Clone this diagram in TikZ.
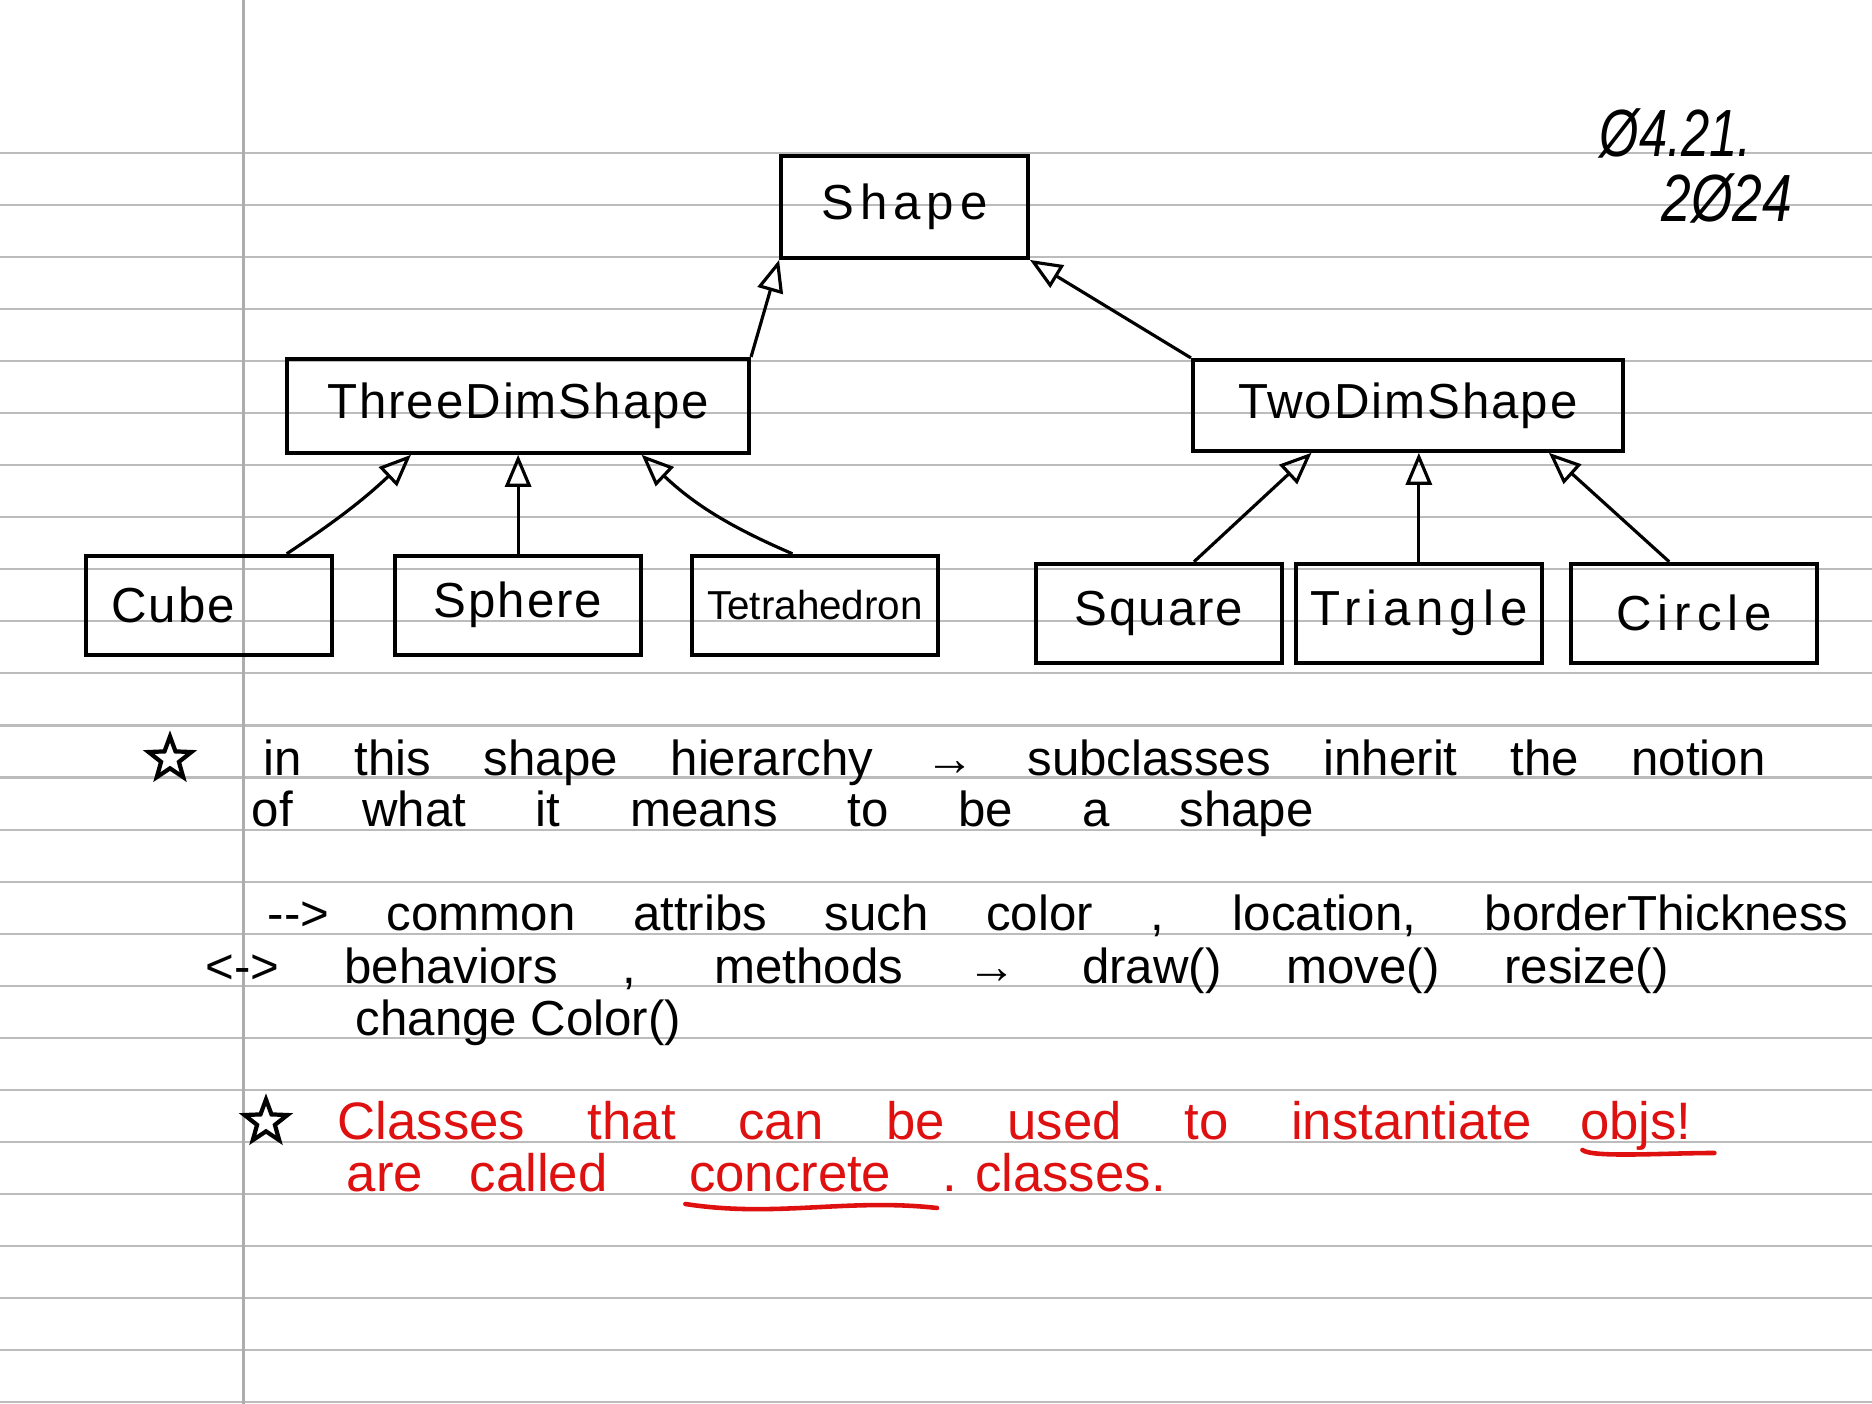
\documentclass[tikz,border=0pt]{standalone}
\usepackage{fontspec}
\setmainfont{Liberation Sans}
\newfontfamily\hand[LetterSpace=4]{Liberation Sans}
\newfontfamily\handwide[LetterSpace=12]{Liberation Sans}
\usepackage{xcolor}
\usetikzlibrary{arrows.meta,shapes.geometric,positioning,calc}
\definecolor{RULEGRAY}{RGB}{188,188,188}
\definecolor{PENRED}{RGB}{222,16,16}
\tikzstyle{RULE} = [draw=RULEGRAY, line width=0.6pt]
\tikzstyle{MARGIN} = [draw=RULEGRAY!92!black, line width=0.9pt]
\tikzstyle{CLASSBOX} = [rectangle, draw, line width=1.1pt, minimum width=2.46cm, minimum height=0.99cm, text centered, font=\hand\fontsize{14}{16}\selectfont]
\tikzstyle{CLASSBOX_TOP} = [CLASSBOX, minimum width=4.62cm, minimum height=0.94cm]
\tikzstyle{INHERIT} = [draw, line width=0.9pt, -{Triangle[open, length=3.2mm, width=2.6mm]}]
\tikzstyle{NOTE} = [anchor=base west, inner sep=0pt, font=\fontsize{14}{16}\selectfont]
\tikzstyle{REDNOTE} = [NOTE, text=PENRED, font=\fontsize{15}{17}\selectfont]
\tikzstyle{DATE} = [anchor=base west, inner sep=0pt, font=\itshape\fontsize{19}{21}\selectfont]
\tikzstyle{STAR} = [star, star points=5, star point ratio=2.4, draw, line width=1.2pt, minimum size=4.5mm, inner sep=0pt]
\tikzstyle{PEN} = [draw=PENRED, line width=1.3pt, line cap=round]

\begin{document}
\begin{tikzpicture}[node distance=1cm]
% Paper
\fill[white] (0,0) rectangle (18.72,-14.04);
\useasboundingbox (0,0) rectangle (18.72,-14.04);
\foreach \k in {0,...,24}
  \path[RULE] (0,{-1.528-0.5206*\k}) -- (18.72,{-1.528-0.5206*\k});
\path[MARGIN] (2.436,0) -- (2.436,-14.04);
% Place node
\node [CLASSBOX, font=\handwide\fontsize{14}{16}\selectfont, minimum width=2.47cm, minimum height=1.02cm] (SHAPE) at (9.045,-2.07) {Shape};
\node [CLASSBOX_TOP, below left=0.97cm and 0.28cm of SHAPE] (THREEDIM) {ThreeDimShape};
\node [CLASSBOX_TOP, minimum width=4.30cm, minimum height=0.91cm, below right=0.98cm and 1.61cm of SHAPE] (TWODIM) {TwoDimShape};
%
\node [CLASSBOX, below=0.99cm of THREEDIM] (SPHERE) {Sphere};
\node [CLASSBOX, left=0.59cm of SPHERE, text width=1.96cm, align=left] (CUBE) {Cube};
\node [CLASSBOX, right=0.47cm of SPHERE, inner xsep=1mm, font=\fontsize{11.5}{14}\selectfont] (TETRA) {Tetrahedron};
\node [CLASSBOX, font=\handwide\fontsize{14}{16}\selectfont, below=1.09cm of TWODIM, xshift=0.11cm] (TRIANGLE) {Triangle};
\node [CLASSBOX, left=0.1cm of TRIANGLE] (SQUARE) {Square};
\node [CLASSBOX, font=\handwide\fontsize{14}{16}\selectfont, right=0.255cm of TRIANGLE] (CIRCLE) {Circle};
%
\node [DATE] (DATE_1) at (15.99,-1.57) {\scalebox{0.76}[1]{Ø4.21.}};
\node [DATE, anchor=base east] (DATE_2) at (17.93,-2.22) {\scalebox{0.8}[1]{2Ø24}};
% Notes
\node [STAR] (STAR_1) at (1.70,-7.59) {};
\node [NOTE] (NOTE_1) at (2.63,-7.76) {\makebox[15.02cm][s]{in this shape hierarchy → subclasses inherit the notion}};
\node [NOTE] (NOTE_2) at (2.51,-8.27) {\makebox[10.62cm][s]{of what it means to be a shape}};
\node [NOTE] (NOTE_3) at (2.67,-9.31) {\makebox[15.81cm][s]{-{}-{}> common attribs such color , location, borderThickness}};
\node [NOTE] (NOTE_4) at (2.05,-9.835) {\makebox[14.63cm][s]{<-> behaviors , methods → draw() move() resize()}};
\node [NOTE] (NOTE_5) at (3.55,-10.355) {change Color()};
%
\node [STAR] (STAR_2) at (2.66,-11.22) {};
\node [REDNOTE] (NOTE_6) at (3.37,-11.40) {\makebox[11.94cm][s]{Classes that can be used to instantiate}};
\node [REDNOTE, base right=0.47cm of NOTE_6] (OBJS) {objs!};
\node [REDNOTE] (ARE_CALLED) at (3.46,-11.92) {\makebox[2.61cm][s]{are called}};
\node [REDNOTE, base right=0.8cm of ARE_CALLED] (CONCRETE) {concrete};
\node [REDNOTE, base right=0.5cm of CONCRETE] (CLASSES_DOT) {\makebox[2.2cm][s]{. classes.}};
% LINES and ARROWS
\path [INHERIT] (THREEDIM.north east) -- (SHAPE.south west);
\path [INHERIT] (TWODIM.north west) -- (SHAPE.south east);
%
\path [INHERIT] ($(CUBE.north west)!0.81!(CUBE.north east)$) to[bend right=5] ($(THREEDIM.south west)!0.27!(THREEDIM.south east)$);
\path [INHERIT] (SPHERE.north) -- (SPHERE.north |- THREEDIM.south);
\path [INHERIT] ($(TETRA.north west)!0.41!(TETRA.north east)$) to[bend left=10] ($(THREEDIM.south west)!0.765!(THREEDIM.south east)$);
%
\path [INHERIT] ($(SQUARE.north west)!0.64!(SQUARE.north east)$) -- ($(TWODIM.south west)!0.278!(TWODIM.south east)$);
\path [INHERIT] (TRIANGLE.north) -- (TRIANGLE.north |- TWODIM.south);
\path [INHERIT] ($(CIRCLE.north west)!0.4!(CIRCLE.north east)$) -- ($(TWODIM.south west)!0.825!(TWODIM.south east)$);
% underlines
\path [PEN] ($(OBJS.base west)+(0.03,-0.10)$) .. controls +(0.1,-0.08) and +(-0.5,0) .. ($(OBJS.base west)+(1.35,-0.13)$);
\path [PEN] ($(CONCRETE.base west)+(-0.03,-0.12)$) .. controls +(0.9,-0.14) and +(-0.9,0.1) .. ($(CONCRETE.base east)+(0.45,-0.16)$);
\end{tikzpicture}
\end{document}
